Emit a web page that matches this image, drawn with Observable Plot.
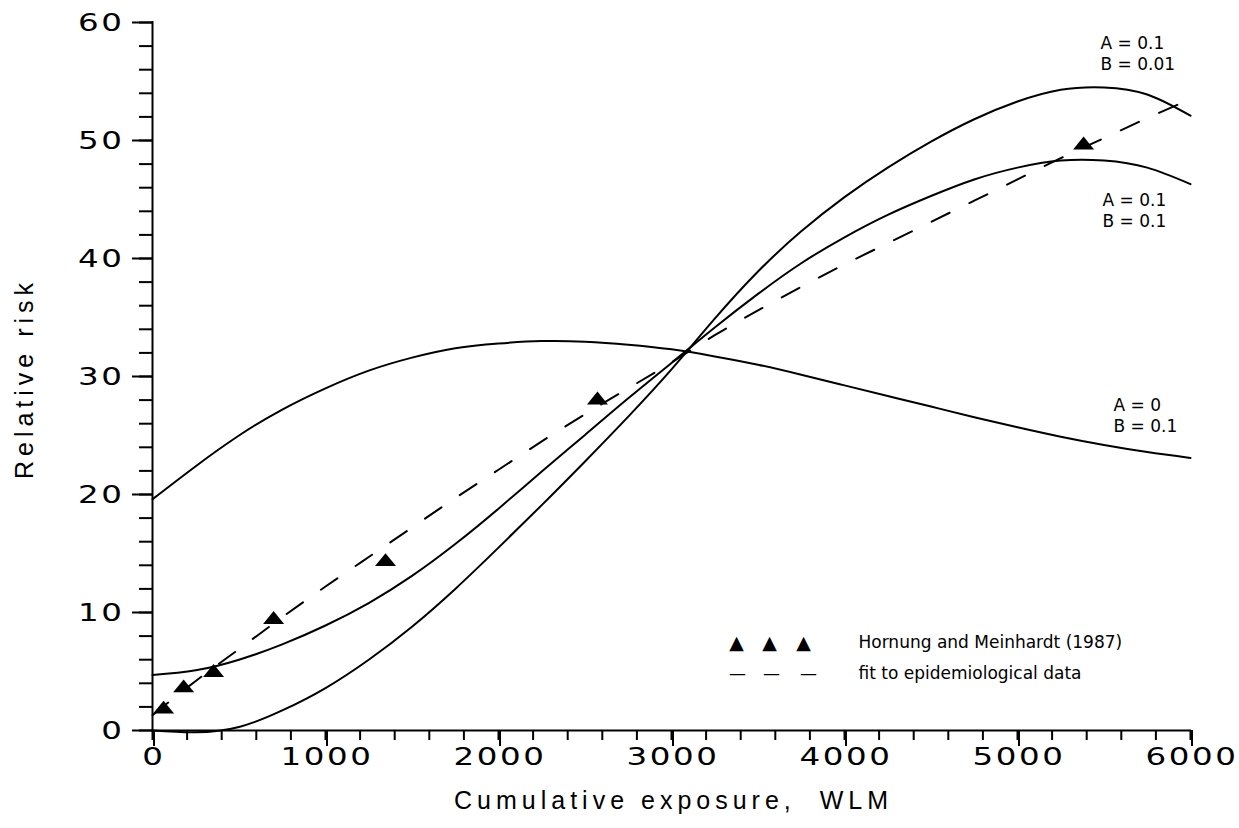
<!DOCTYPE html>
<html>
<head>
<meta charset="utf-8">
<script src="https://cdn.jsdelivr.net/npm/d3@7"></script>
<script src="https://cdn.jsdelivr.net/npm/@observablehq/plot@0.6"></script>
<style>
  html, body { margin: 0; padding: 0; background: #fff; }
  #chart { width: 1239px; height: 828px; }
</style>
</head>
<body>
<div id="chart"></div>
<script>
// ---- data ----
const exposure = [0, 250, 500, 750, 1000, 1250, 1500, 1750, 2000, 2250, 2500, 2750, 3000,
                  3250, 3500, 3750, 4000, 4250, 4500, 4750, 5000, 5250, 5500, 5750, 6000];
// A = 0.1, B = 0.01
const rrA01B001 = [0.0, -0.15, 0.3, 1.7, 3.6, 6.0, 8.8, 12.0, 15.5, 19.1, 22.8, 26.6, 30.6,
                   34.9, 38.9, 42.3, 45.2, 47.7, 49.9, 51.8, 53.3, 54.3, 54.5, 53.9, 52.1];
// A = 0.1, B = 0.1
const rrA01B01 = [4.7, 5.1, 6.0, 7.3, 8.9, 10.8, 13.1, 15.8, 18.8, 21.95, 25.05, 28.15, 31.15,
                  34.15, 37.0, 39.6, 41.8, 43.7, 45.3, 46.7, 47.7, 48.3, 48.3, 47.7, 46.3];
// A = 0, B = 0.1
const rrA0B01 = [19.6, 22.4, 25.0, 27.2, 29.0, 30.5, 31.6, 32.4, 32.8, 33.0, 32.95, 32.7, 32.3,
                 31.7, 31.0, 30.15, 29.25, 28.35, 27.45, 26.55, 25.7, 24.9, 24.2, 23.6, 23.1];
// fit to epidemiological data (dashed)
const rrFit = [1.3, 4.2, 6.9, 9.6, 12.2, 14.7, 17.2, 19.7, 22.1, 24.5, 26.8, 29.0, 31.2,
               33.5, 35.6, 37.6, 39.5, 41.3, 43.1, 44.9, 46.7, 48.5, 50.2, 51.9, 53.5];
// Hornung and Meinhardt (1987) observations
const obsExposure = [64, 180, 353, 700, 1347, 2572, 5382];
const obsRR = [1.8, 3.6, 4.9, 9.4, 14.3, 28.0, 49.6];

const seriesNames = ["A = 0.1, B = 0.01", "A = 0.1, B = 0.1", "A = 0, B = 0.1"];
const curveLabels = ["A = 0.1\nB = 0.01", "A = 0.1\nB = 0.1", "A = 0\nB = 0.1"];
const legendLabels = ["Hornung and Meinhardt (1987)", "fit to epidemiological data"];
const xMajorTicks = [0, 1000, 2000, 3000, 4000, 5000, 6000];
const yMajorTicks = [0, 10, 20, 30, 40, 50, 60];
const xTitle = "Cumulative exposure,  WLM";
const yTitle = "Relative risk";

// ---- tables built from the arrays ----
const seriesValues = [rrA01B001, rrA01B01, rrA0B01];
const curveRows = seriesValues.flatMap((vals, i) =>
  exposure.map((x, j) => ({x, y: vals[j], series: seriesNames[i]})));
const fitRows = exposure.map((x, j) => ({x, y: rrFit[j]}));
const obsRows = obsExposure.map((x, j) => ({x, y: obsRR[j]}));
const xMinorTicks = d3.range(0, 6001, 200);
const yMinorTicks = d3.range(0, 61, 2);

// flattened filled triangle like the scanned markers
const flatTriangle = {
  draw(context, size) {
    const r = Math.sqrt(size / Math.PI);
    const hw = r * 1.5, h = r * 1.85;
    context.moveTo(0, -2 * h / 3);
    context.lineTo(hw, h / 3);
    context.lineTo(-hw, h / 3);
    context.closePath();
  }
};

const LBL = "DejaVu Sans";
const TTL = "Liberation Sans";

const chart = Plot.plot({
  width: 1239,
  height: 828,
  marginLeft: 152,
  marginRight: 49,
  marginTop: 22,
  marginBottom: 98,
  x: {domain: [0, 6000]},
  y: {domain: [0, 60]},
  style: {background: "#fff", color: "#000", fontFamily: LBL},
  marks: [
    Plot.line(curveRows, {x: "x", y: "y", z: "series", stroke: "#000", strokeWidth: 2, curve: "natural"}),
    Plot.line(fitRows, {x: "x", y: "y", stroke: "#000", strokeWidth: 2, strokeDasharray: "20,22", curve: "natural"}),
    Plot.dot(obsRows, {x: "x", y: "y", r: 7, symbol: flatTriangle, fill: "#000", stroke: "none"}),
    Plot.ruleX([0], {stroke: "#000", strokeWidth: 2, strokeLinecap: "square"}),
    Plot.ruleY([0], {stroke: "#000", strokeWidth: 2, strokeLinecap: "square"}),
    // x axis: minor and major ticks (outward, below)
    Plot.axisX({ticks: xMinorTicks, tickSize: 10, tickFormat: () => "", strokeWidth: 2, label: null}),
    Plot.axisX({ticks: xMajorTicks, tickSize: 16, tickPadding: 1, tickFormat: d3.format("d"),
                strokeWidth: 2, dx: 1.5, label: null}),
    // y axis: minor and major ticks (outward, left)
    Plot.axisY({ticks: yMinorTicks, tickSize: 13, tickFormat: () => "", strokeWidth: 2, label: null}),
    Plot.axisY({ticks: yMajorTicks, tickSize: 20, tickPadding: 8, tickFormat: d3.format("d"),
                strokeWidth: 2, label: null}),
    // axis titles
    Plot.text([xTitle], {text: d => d, frameAnchor: "bottom", lineAnchor: "middle", textAnchor: "middle",
                         dy: 70, dx: 2, fontSize: 25, fontFamily: TTL}),
    Plot.text([yTitle], {text: d => d, frameAnchor: "left", lineAnchor: "middle", textAnchor: "middle",
                         rotate: -90, dx: -128, dy: 2, fontSize: 25, fontFamily: TTL}),
    // curve labels
    Plot.text([curveLabels[0]], {text: d => d, frameAnchor: "top-right", lineAnchor: "middle", textAnchor: "start",
                                 dx: -90, dy: 30.5, fontSize: 17, lineHeight: 1.24}),
    Plot.text([curveLabels[1]], {text: d => d, frameAnchor: "top-right", lineAnchor: "middle", textAnchor: "start",
                                 dx: -88, dy: 187.5, fontSize: 17, lineHeight: 1.24}),
    Plot.text([curveLabels[2]], {text: d => d, frameAnchor: "top-right", lineAnchor: "middle", textAnchor: "start",
                                 dx: -77, dy: 392.5, fontSize: 17, lineHeight: 1.24}),
    // legend
    Plot.text(["▲"], {text: d => d, frameAnchor: "bottom-left", lineAnchor: "middle", textAnchor: "middle",
                      dx: 584, dy: -88, fontSize: 19}),
    Plot.text(["▲"], {text: d => d, frameAnchor: "bottom-left", lineAnchor: "middle", textAnchor: "middle",
                      dx: 617, dy: -88, fontSize: 19}),
    Plot.text(["▲"], {text: d => d, frameAnchor: "bottom-left", lineAnchor: "middle", textAnchor: "middle",
                      dx: 651, dy: -88, fontSize: 19}),
    Plot.text([legendLabels[0]], {text: d => d, frameAnchor: "bottom-left", lineAnchor: "middle", textAnchor: "start",
                                  dx: 706, dy: -88, fontSize: 17}),
    Plot.text(["—"], {text: d => d, frameAnchor: "bottom-left", lineAnchor: "middle", textAnchor: "middle",
                      dx: 585, dy: -57, fontSize: 17}),
    Plot.text(["—"], {text: d => d, frameAnchor: "bottom-left", lineAnchor: "middle", textAnchor: "middle",
                      dx: 619, dy: -57, fontSize: 17}),
    Plot.text(["—"], {text: d => d, frameAnchor: "bottom-left", lineAnchor: "middle", textAnchor: "middle",
                      dx: 656, dy: -57, fontSize: 17}),
    Plot.text([legendLabels[1]], {text: d => d, frameAnchor: "bottom-left", lineAnchor: "middle", textAnchor: "start",
                                  dx: 706, dy: -57, fontSize: 17})
  ]
});

document.getElementById("chart").appendChild(chart);

// typesetting details: wide geometric tick numerals and letter-spaced titles
const svg = d3.select(chart);
const tickTexts = new Set([...xMajorTicks, ...yMajorTicks].map(String));
svg.selectAll("text").each(function () {
  const t = this.textContent;
  const sel = d3.select(this);
  if (tickTexts.has(t)) {
    const tr = this.getAttribute("transform") || "";
    sel.attr("transform", `${tr} scale(1.3,1)`)
       .style("font-size", "25px").style("font-family", LBL).style("letter-spacing", "2px");
  } else if (t === xTitle || t === yTitle) {
    sel.style("letter-spacing", "5px");
  }
});
</script>
</body>
</html>
